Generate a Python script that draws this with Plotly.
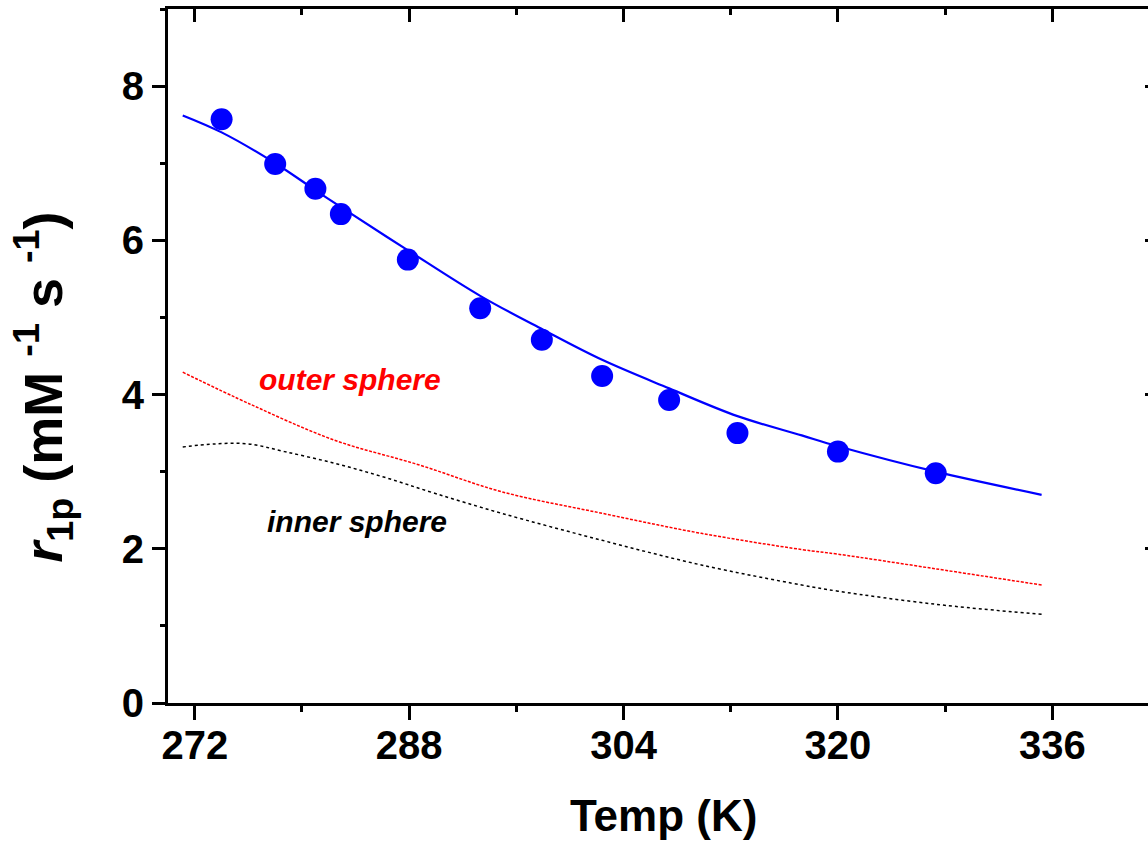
import plotly.graph_objects as go

# measured data points
temp_pts = [274.0, 278.0, 281.0, 282.9, 287.9, 293.3, 297.9, 302.4, 307.4, 312.5, 320.0, 327.3]
r1p_pts = [7.57, 6.99, 6.67, 6.34, 5.75, 5.12, 4.71, 4.24, 3.93, 3.50, 3.26, 2.98]

# fitted total relaxivity
fit_x = [271.1, 274.0, 278.0, 281.0, 283.0, 288.0, 293.3, 298.0, 302.4, 307.4, 312.5, 317.3, 320.0, 327.3, 335.2]
fit_y = [7.62, 7.40, 7.00, 6.65, 6.42, 5.86, 5.28, 4.84, 4.45, 4.08, 3.72, 3.47, 3.33, 3.00, 2.70]

# outer sphere contribution
os_x = [271.1, 276.2, 282.4, 288.7, 294.9, 302.4, 309.8, 317.3, 320.0, 327.3, 335.2]
os_y = [4.29, 3.87, 3.41, 3.09, 2.74, 2.46, 2.20, 1.99, 1.93, 1.74, 1.53]

# inner sphere contribution
is_x = [271.1, 273.5, 276.0, 278.7, 282.4, 286.1, 289.9, 294.9, 302.4, 309.8, 317.3, 320.0, 327.3, 335.2]
is_y = [3.32, 3.36, 3.36, 3.26, 3.11, 2.93, 2.72, 2.46, 2.11, 1.79, 1.53, 1.45, 1.28, 1.15]

x_ticks = [272, 288, 304, 320, 336]
y_ticks = [0, 2, 4, 6, 8]
x_range = [270, 343.14]
y_range = [0, 9]

FONT = "Arial, 'Liberation Sans', sans-serif"

fig = go.Figure()
fig.add_trace(go.Scatter(x=os_x, y=os_y, mode="lines",
                         line=dict(color="#FF0000", width=1.5, dash="3px,1.5px", shape="spline", smoothing=1.0),
                         showlegend=False))
fig.add_trace(go.Scatter(x=is_x, y=is_y, mode="lines",
                         line=dict(color="#000000", width=1.5, dash="dot", shape="spline", smoothing=1.0),
                         showlegend=False))
fig.add_trace(go.Scatter(x=fit_x, y=fit_y, mode="lines",
                         line=dict(color="#0000FF", width=2.2, shape="spline", smoothing=1.0),
                         showlegend=False))
fig.add_trace(go.Scatter(x=temp_pts, y=r1p_pts, mode="markers",
                         marker=dict(color="#0000FF", size=22, line=dict(width=0)), showlegend=False))
# invisible trace to anchor mirror axes
fig.add_trace(go.Scatter(x=temp_pts, y=r1p_pts, mode="markers", xaxis="x2", yaxis="y2",
                         marker=dict(opacity=0), hoverinfo="skip", showlegend=False))

axis_common = dict(showgrid=False, zeroline=False, linecolor="black", tickcolor="black")

fig.update_layout(
    width=1148, height=841,
    margin=dict(l=168, r=0, t=9, b=138, autoexpand=False),
    paper_bgcolor="white", plot_bgcolor="white",
    font=dict(family=FONT, color="black"),
    xaxis=dict(range=x_range, tickvals=x_ticks, ticks="outside", ticklen=14, tickwidth=3,
               showline=True, linewidth=3, ticklabelstandoff=-9,
               minor=dict(dtick=8, tick0=272, ticks="outside", ticklen=6, tickwidth=3, tickcolor="black"),
               tickfont=dict(size=40, weight="bold", family=FONT),
               **axis_common),
    yaxis=dict(range=y_range, tickvals=y_ticks, ticks="outside", ticklen=13, tickwidth=3,
               showline=True, linewidth=3,
               minor=dict(dtick=1, tick0=0, ticks="outside", ticklen=5, tickwidth=3, tickcolor="black"),
               tickfont=dict(size=40, weight="bold", family=FONT),
               **axis_common),
    xaxis2=dict(range=x_range, overlaying="x", side="top", anchor="y", tickvals=x_ticks,
                ticks="inside", ticklen=13, tickwidth=3, showticklabels=False,
                showline=True, linewidth=3,
                minor=dict(dtick=8, tick0=272, ticks="inside", ticklen=6, tickwidth=3, tickcolor="black"),
                **axis_common),
    yaxis2=dict(range=y_range, overlaying="y", side="right", anchor="x", tickvals=y_ticks,
                ticks="inside", ticklen=3, tickwidth=3, showticklabels=False, showline=False,
                **axis_common),
)

fig.add_annotation(text="<i>r</i><sub>1p</sub>&nbsp;(mM&nbsp;<sup>-1</sup>&nbsp;s&nbsp;<sup>-1</sup>)",
                   xref="paper", yref="paper", x=-0.127, y=0.455, textangle=-90,
                   showarrow=False, xanchor="center", yanchor="middle",
                   font=dict(size=54, weight="bold", family=FONT, color="black"))
fig.add_annotation(text="Temp (K)", xref="paper", yref="paper", x=0.5056, y=-0.1614,
                   showarrow=False, xanchor="center", yanchor="middle",
                   font=dict(size=44, weight="bold", family=FONT, color="black"))
fig.add_annotation(text="<i>outer sphere</i>", x=283.6, y=4.19, xref="x", yref="y",
                   showarrow=False, font=dict(size=30, weight="bold", family=FONT, color="#FF0000"))
fig.add_annotation(text="<i>inner sphere</i>", x=284.1, y=2.35, xref="x", yref="y",
                   showarrow=False, font=dict(size=30, weight="bold", family=FONT, color="black"))

fig.write_html("out.html")
